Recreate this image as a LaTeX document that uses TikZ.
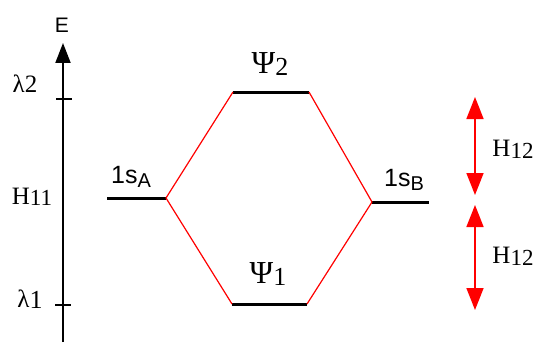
\documentclass[tikz,border=0pt]{standalone}
\usepackage{fontspec}
\setmainfont{Liberation Serif}
\newfontfamily\lsans{Liberation Sans}
\usetikzlibrary{arrows.meta}
\begin{document}
\begin{tikzpicture}[x=0.5pt,y=-0.5pt,
  level/.style={line width=1.5pt,black},
  conn/.style={red,line width=0.6pt},
  harrow/.style={red,line width=0.8pt,{Triangle[width=8.5pt,length=11pt]}-{Triangle[width=8.5pt,length=11pt]}},
  tickmark/.style={line width=0.6pt},
  lab/.style={inner sep=0pt,font=\fontsize{12.5}{14}\selectfont},
  psilab/.style={inner sep=0pt,font=\fontsize{16}{18}\selectfont},
  orb/.style={inner sep=0pt,font=\lsans\fontsize{12.5}{14}\selectfont}]
\useasboundingbox (0,0) rectangle (539,342);
% axis
\coordinate (axB) at (63,342);
\coordinate (axT) at (63,43);
\draw[line width=1pt,-{Triangle[width=7.5pt,length=10pt]}] (axB) -- (axT);
\node[inner sep=0pt,font=\lsans\fontsize{10.5}{12}\selectfont] (E) at (62,25) {E};
% ticks
\coordinate (t2l) at (56,99); \coordinate (t2r) at (72,99);
\coordinate (t1l) at (55,305); \coordinate (t1r) at (71,305);
\draw[tickmark] (t2l) -- (t2r);
\draw[tickmark] (t1l) -- (t1r);
\node[lab] (l2) at (25,84) {λ2};
\node[lab] (h11) at (32,197) {H\raisebox{-0.5pt}{\fontsize{11.5}{13}\selectfont 11}};
\node[lab] (l1) at (30,299) {λ\raisebox{-0.5pt}{\fontsize{13}{14}\selectfont 1}};
% levels
\coordinate (aL) at (107,198); \coordinate (aR) at (166,198);
\coordinate (p2L) at (233,92); \coordinate (p2R) at (309,92);
\coordinate (p1L) at (232,304); \coordinate (p1R) at (307,304);
\coordinate (bL) at (372,202); \coordinate (bR) at (429,202);
\draw[level] (aL) -- (aR);
\draw[level] (p2L) -- (p2R);
\draw[level] (p1L) -- (p1R);
\draw[level] (bL) -- (bR);
\draw[conn] (aR) -- (p2L);
\draw[conn] (aR) -- (p1L);
\draw[conn] (p2R) -- (bL);
\draw[conn] (p1R) -- (bL);
\node[orb] (sa) at (131,177) {1s\raisebox{-2pt}{\fontsize{10}{11}\selectfont A}};
\node[orb] (sb) at (404,180) {1s\raisebox{-2pt}{\fontsize{10}{11}\selectfont B}};
\node[psilab] (psi2) at (270,64) {Ψ\raisebox{-1pt}{\fontsize{13}{14}\selectfont 2}};
\node[psilab] (psi1) at (268,274) {Ψ\raisebox{-1pt}{\fontsize{13}{14}\selectfont 1}};
% red arrows
\coordinate (r1t) at (475,97); \coordinate (r1b) at (475,195);
\coordinate (r2t) at (475,205); \coordinate (r2b) at (475,310);
\draw[harrow] (r1t) -- (r1b);
\draw[harrow] (r2t) -- (r2b);
\node[lab] (h12a) at (513,149) {H\raisebox{-1pt}{\fontsize{11.5}{13}\selectfont 12}};
\node[lab] (h12b) at (513,256) {H\raisebox{-1pt}{\fontsize{11.5}{13}\selectfont 12}};
\end{tikzpicture}
\end{document}
